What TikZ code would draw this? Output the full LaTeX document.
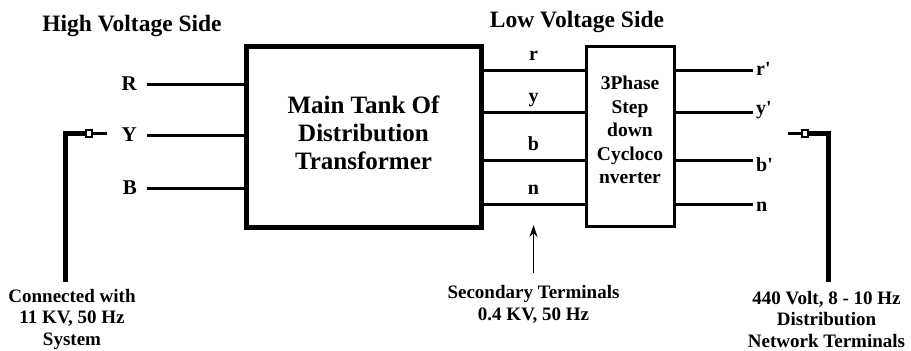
\documentclass[tikz,border=0pt]{standalone}
\usepackage{fontspec}
\setmainfont{Liberation Serif}
\usetikzlibrary{arrows.meta}

\begin{document}
\begin{tikzpicture}[x=1pt,y=-1pt,>=Stealth,
    wire/.style={line width=3pt},
    heavy/.style={line width=5pt},
    plug/.style={line width=2pt,fill=white},
    ttl/.style={font=\bfseries\fontsize{23.5}{28}\selectfont,anchor=base},
    tag/.style={font=\bfseries\fontsize{20}{24}\selectfont},
    note/.style={font=\bfseries\fontsize{19}{21.5}\selectfont,align=center,anchor=base}]
            \useasboundingbox (0,0) rectangle (911,351);
            \node[draw,line width=5pt,minimum width=235pt,minimum height=181pt] (tank) at (363.5,136.5) {};
            \node[draw,line width=3pt,minimum width=88pt,minimum height=180pt] (cyclo) at (630,136) {};
            \node[font=\bfseries\fontsize{25}{28}\selectfont,align=center] (tanktxt) at (363.5,133) {Main Tank Of\\Distribution\\Transformer};
            \node[font=\bfseries\fontsize{19.5}{23.5}\selectfont,align=center] (cyclotxt) at (630,130) {3Phase\\Step\\down\\Cycloco\\nverter};
            \node[ttl] (hv) at (132,31) {High Voltage Side};
            \node[ttl] (lv) at (577,27) {Low Voltage Side};
            \foreach \p/\yy in {R/84,Y/135,B/188} {
                \node[tag,font=\bfseries\fontsize{21}{24}\selectfont,anchor=east,inner xsep=10pt,inner ysep=0pt] (\p) at (147,\yy) {\p};
                \draw[wire] (\p.east) -- (\p -| tank.west);
            }
            \foreach \t/\yy in {r/70,y/112,b/160,n/204} {
                \coordinate (w\t) at (0,\yy);
                \draw[wire] (tank.east |- w\t) -- (cyclo.west |- w\t);
                \node[tag,anchor=base] (s\t) at (533.5,\yy-10) {\t};
            }
            \foreach \t/\dy/\o in {r/5/r\textquotesingle,y/2/y\textquotesingle,b/11/b\textquotesingle,n/7/n} {
                \coordinate (e\t) at (753,0);
                \draw[wire] (cyclo.east |- w\t) -- (e\t |- w\t);
                \node[tag,anchor=base west,inner xsep=3pt] (o\t) at ([yshift=-\dy pt]e\t |- w\t) {\o};
            }
            \node[note] (conn) at (72,345) {Connected with\\11 KV, 50 Hz\\System};
            \node[note] (sec) at (533.5,320) {Secondary Terminals\\0.4 KV, 50 Hz};
            \node[note] (dist) at (826.5,347) {440 Volt, 8 - 10 Hz\\Distribution\\Network Terminals};
            \coordinate (hlb) at (65,282);
            \coordinate (hlt) at (65,133);
            \draw[heavy] (hlb) -- (hlt) -- (86,133);
            \draw[plug] (86,129.5) rectangle (92,136.5);
            \draw[wire] (92,133) -- (107,133);
            \coordinate (hrb) at (828,282);
            \coordinate (hrt) at (828,133);
            \draw[heavy] (hrb) -- (hrt) -- (808,133);
            \draw[plug] (802,129.5) rectangle (808,136.5);
            \draw[wire] (802,133) -- (788,133);
            \coordinate (sa) at (533.5,273);
            \coordinate (sb) at (533.5,225);
            \draw[line width=1.5pt,-{Stealth[length=12pt,width=8pt]}] (sa) -- (sb);
        \end{tikzpicture}
\end{document}
